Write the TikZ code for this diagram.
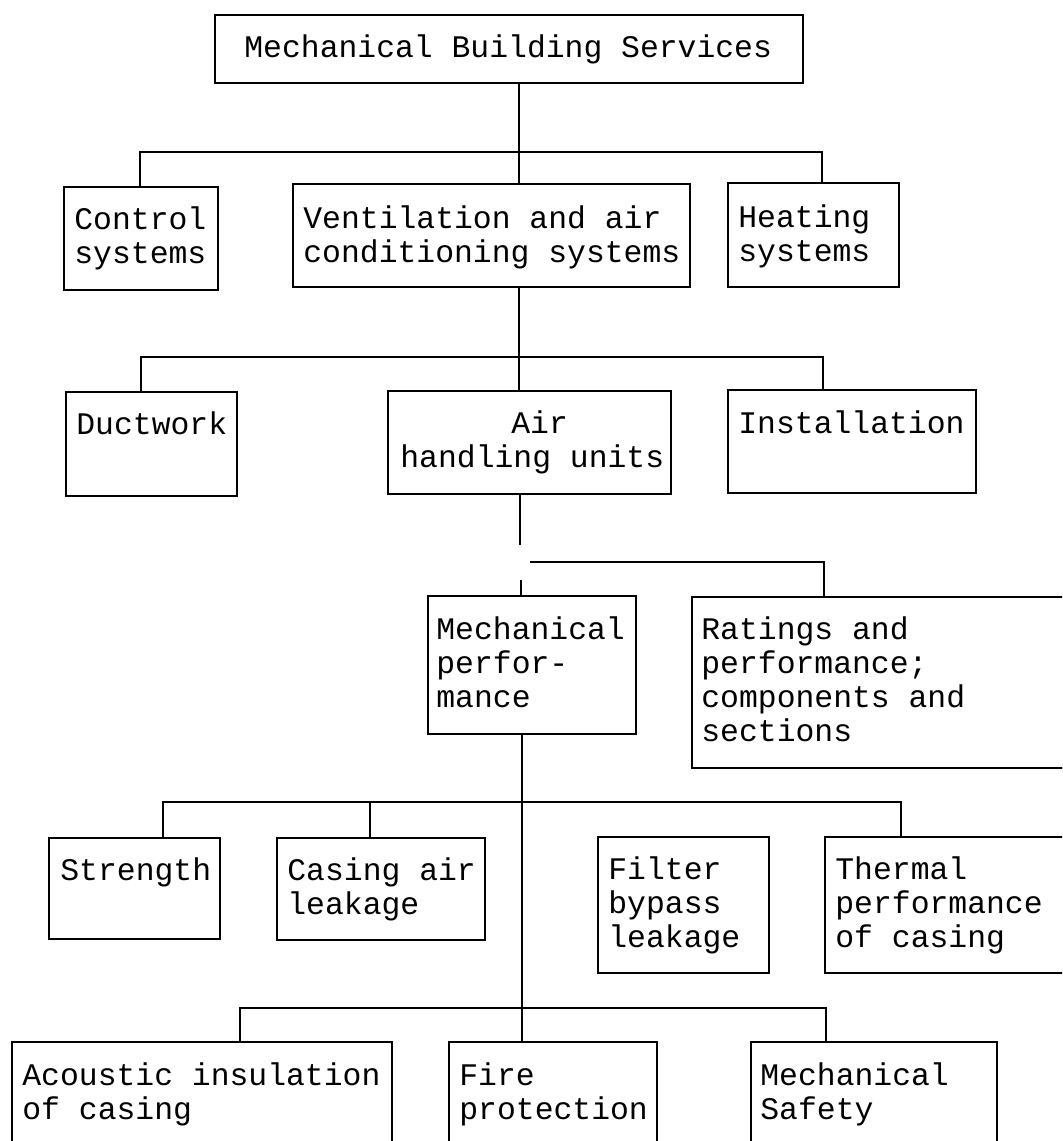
\documentclass[tikz,border=0pt]{standalone}
\usepackage{fontspec}
\setmainfont{Liberation Mono}
\usetikzlibrary{fit}
\begin{document}
\begin{tikzpicture}[x=0.5pt,y=-0.5pt,
  box/.style={draw=black, line width=1.1pt, inner sep=0pt, rectangle},
  txt/.style={inner sep=0pt, align=left, font=\fontsize{15.7}{17}\selectfont, anchor=base west},
  conn/.style={draw=black, line width=1pt}]
\useasboundingbox (0,0) rectangle (1062,1141);
\fill[white] (0,0) rectangle (1062,1141);
\clip (0,0) rectangle (1062,1141);
% boxes
\node[box, fit={(215,15) (803,83)}] (top) {};
\node[box, fit={(64,187) (218,290)}] (ctrl) {};
\node[box, fit={(293,184) (690,287)}] (vent) {};
\node[box, fit={(728,183) (899,287)}] (heat) {};
\node[box, fit={(66,392) (237,496)}] (duct) {};
\node[box, fit={(388,391) (671,494)}] (ahu) {};
\node[box, fit={(728,390) (976,493)}] (inst) {};
\node[box, fit={(428,596) (636,734)}] (mech) {};
\node[box, fit={(692,597) (1075,768)}] (rate) {};
\node[box, fit={(49,838) (220,939)}] (str) {};
\node[box, fit={(277,838) (485,940)}] (casing) {};
\node[box, fit={(598,837) (769,973)}] (filter) {};
\node[box, fit={(825,837) (1075,973)}] (therm) {};
\node[box, fit={(12,1042) (392,1160)}] (acou) {};
\node[box, fit={(449,1042) (657,1160)}] (fire) {};
\node[box, fit={(751,1042) (997,1160)}] (msafe) {};
% texts (anchor = baseline of the last line)
\node[txt] (topT) at (244,57) {Mechanical Building Services};
\node[txt] (ctrlT) at (74,263) {Control\\systems};
\node[txt] (ventT) at (303,262) {Ventilation and air\\conditioning systems};
\node[txt] (heatT) at (738,261) {Heating\\systems};
\node[txt] (ductT) at (76,434) {Ductwork};
\node[txt] (ahuT1) at (511,433) {Air};
\node[txt] (ahuT2) at (400,467) {handling units};
\node[txt] (instT) at (738,433) {Installation};
\node[txt] (mechT) at (436,707) {Mechanical\\perfor-\\mance};
\node[txt] (rateT) at (701,741) {Ratings and\\performance;\\components and\\sections};
\node[txt] (strT) at (60,880) {Strength};
\node[txt] (casingT) at (287,914) {Casing air\\leakage};
\node[txt] (filterT) at (608,947) {Filter\\bypass\\leakage};
\node[txt] (thermT) at (835,947) {Thermal\\performance\\of casing};
\node[txt] (acouT) at (22,1119) {Acoustic insulation\\of casing};
\node[txt] (fireT) at (459,1119) {Fire\\protection};
\node[txt] (msafeT) at (760,1119) {Mechanical\\Safety};
% bar coordinates
\coordinate (b1L) at (140,152);
\coordinate (b1C) at (519,152);
\coordinate (b1R) at (822,152);
\coordinate (b2L) at (141,357);
\coordinate (b2C) at (519,357);
\coordinate (b2R) at (823,357);
\coordinate (ahuEnd) at (520,545);
\coordinate (b3L) at (530,562);
\coordinate (b3R) at (824,562);
\coordinate (stubTop) at (521,580);
\coordinate (b4L) at (163,802);
\coordinate (b4M) at (370,802);
\coordinate (b4C) at (522,802);
\coordinate (b4R) at (901,802);
\coordinate (b5L) at (240,1008);
\coordinate (b5C) at (522,1008);
\coordinate (b5R) at (826,1008);
% connectors
\draw[conn] (top.south -| b1C) -- (vent.north -| b1C);
\draw[conn] (ctrl.north -| b1L) -- (b1L) -- (b1R) -- (heat.north -| b1R);
\draw[conn] (vent.south -| b2C) -- (ahu.north -| b2C);
\draw[conn] (duct.north -| b2L) -- (b2L) -- (b2R) -- (inst.north -| b2R);
\draw[conn] (ahu.south -| ahuEnd) -- (ahuEnd);
\draw[conn] (b3L) -- (b3R) -- (rate.north -| b3R);
\draw[conn] (stubTop) -- (mech.north -| stubTop);
\draw[conn] (mech.south -| b4C) -- (fire.north -| b4C);
\draw[conn] (str.north -| b4L) -- (b4L) -- (b4R) -- (therm.north -| b4R);
\draw[conn] (b4M) -- (casing.north -| b4M);
\draw[conn] (acou.north -| b5L) -- (b5L) -- (b5R) -- (msafe.north -| b5R);
\end{tikzpicture}
\end{document}
